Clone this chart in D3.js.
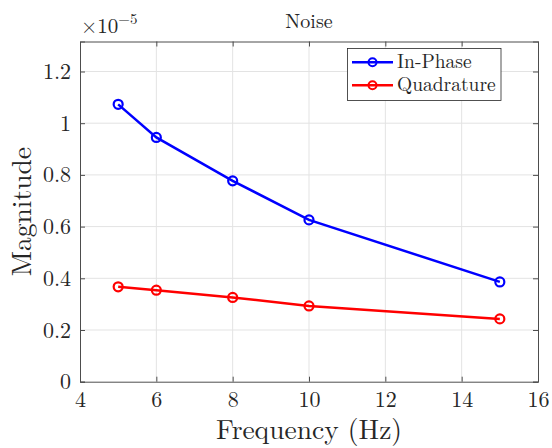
<!DOCTYPE html>
<html><head><meta charset="utf-8">
<script src="https://cdn.jsdelivr.net/npm/d3@7"></script>
<style>body{margin:0;background:#fff}svg{display:block}text{font-family:"Latin Modern Roman","Liberation Serif",serif;fill:#262626}</style>
</head><body><svg id="c" width="552" height="448"></svg>
<script>
const freq = [5, 6, 8, 10, 15];
const inPhase = [1.073, 0.945, 0.777, 0.626, 0.386];
const quadrature = [0.367, 0.354, 0.326, 0.293, 0.243];
const xTicks = [4, 6, 8, 10, 12, 14, 16];
const yTicks = [0, 0.2, 0.4, 0.6, 0.8, 1, 1.2];
const seriesNames = ["In-Phase", "Quadrature"];
const seriesColors = ["#0000ff", "#ff0000"];

const FONT = '"Latin Modern Roman","Liberation Serif",serif';
const svg = d3.select("#c");
const L = 80, R = 538, T = 41.5, B = 381.7;
const x = d3.scaleLinear().domain([4, 16]).range([L, R]);
const y = d3.scaleLinear().domain([0, 1.2 * (B - T) / (B - 71.5)]).range([B, T]);

// grid
svg.append("g").selectAll("line").data(xTicks.slice(1, -1)).join("line")
  .attr("x1", d => x(d)).attr("x2", d => x(d)).attr("y1", T).attr("y2", B)
  .attr("stroke", "#e3e3e3").attr("stroke-width", 1);
svg.append("g").selectAll("line").data(yTicks.slice(1)).join("line")
  .attr("y1", d => y(d)).attr("y2", d => y(d)).attr("x1", L).attr("x2", R)
  .attr("stroke", "#e3e3e3").attr("stroke-width", 1);

// axes
const fmt = d => d3.format("~g")(d);
const axB = svg.append("g").attr("transform", `translate(0,${B})`)
  .call(d3.axisBottom(x).tickValues(xTicks).tickSize(-5).tickPadding(10).tickFormat(fmt));
const axT = svg.append("g").attr("transform", `translate(0,${T})`)
  .call(d3.axisTop(x).tickValues(xTicks).tickSize(-5).tickFormat(""));
const axL = svg.append("g").attr("transform", `translate(${L},0)`)
  .call(d3.axisLeft(y).tickValues(yTicks).tickSize(-5).tickPadding(9).tickFormat(fmt));
const axR = svg.append("g").attr("transform", `translate(${R},0)`)
  .call(d3.axisRight(y).tickValues(yTicks).tickSize(-5).tickFormat(""));
[axB, axT, axL, axR].forEach(a => {
  a.attr("font-family", FONT);
  a.selectAll("path").attr("stroke", "#4d4d4d").attr("stroke-width", 1);
  a.selectAll("line").attr("stroke", "#4d4d4d");
  a.selectAll("text").style("font-size", "22px").attr("fill", "#262626").style("font-family", FONT);
});

// series
const data = [inPhase, quadrature];
const line = d3.line().x((d, i) => x(freq[i])).y(d => y(d));
data.forEach((s, k) => {
  svg.append("path").datum(s).attr("d", line).attr("fill", "none")
    .attr("stroke", seriesColors[k]).attr("stroke-width", 2.5);
  svg.append("g").selectAll("circle").data(s).join("circle")
    .attr("cx", (d, i) => x(freq[i])).attr("cy", d => y(d)).attr("r", 4.5)
    .attr("fill", "none").attr("stroke", seriesColors[k]).attr("stroke-width", 2.2);
});

// title and labels
svg.append("text").attr("x", (L + R) / 2).attr("y", 28).attr("text-anchor", "middle")
  .style("font-size", "20px").text("Noise");
svg.append("text").attr("x", (L + R) / 2).attr("y", 439).attr("text-anchor", "middle")
  .style("font-size", "27.5px").text("Frequency (Hz)");
svg.append("text").attr("transform", `translate(31,${(T + B) / 2}) rotate(-90)`).attr("text-anchor", "middle")
  .style("font-size", "27.5px").text("Magnitude");
const ex = svg.append("text").attr("x", 81).attr("y", 33).style("font-size", "21px");
ex.append("tspan").text("×10");
ex.append("tspan").attr("dy", -9).style("font-size", "15px").text("−5");

// legend
const lg = svg.append("g");
lg.append("rect").attr("x", 347.5).attr("y", 48.5).attr("width", 153.5).attr("height", 52)
  .attr("fill", "#fff").attr("stroke", "#262626").attr("stroke-width", 0.8);
seriesNames.forEach((n, k) => {
  const yy = 62.3 + k * 23;
  lg.append("line").attr("x1", 352).attr("x2", 393).attr("y1", yy).attr("y2", yy)
    .attr("stroke", seriesColors[k]).attr("stroke-width", 2.5);
  lg.append("circle").attr("cx", 372.5).attr("cy", yy).attr("r", 4)
    .attr("fill", "none").attr("stroke", seriesColors[k]).attr("stroke-width", 2);
  lg.append("text").attr("x", 397).attr("y", yy + 6).style("font-size", "19.5px").text(n);
});
</script></body></html>
